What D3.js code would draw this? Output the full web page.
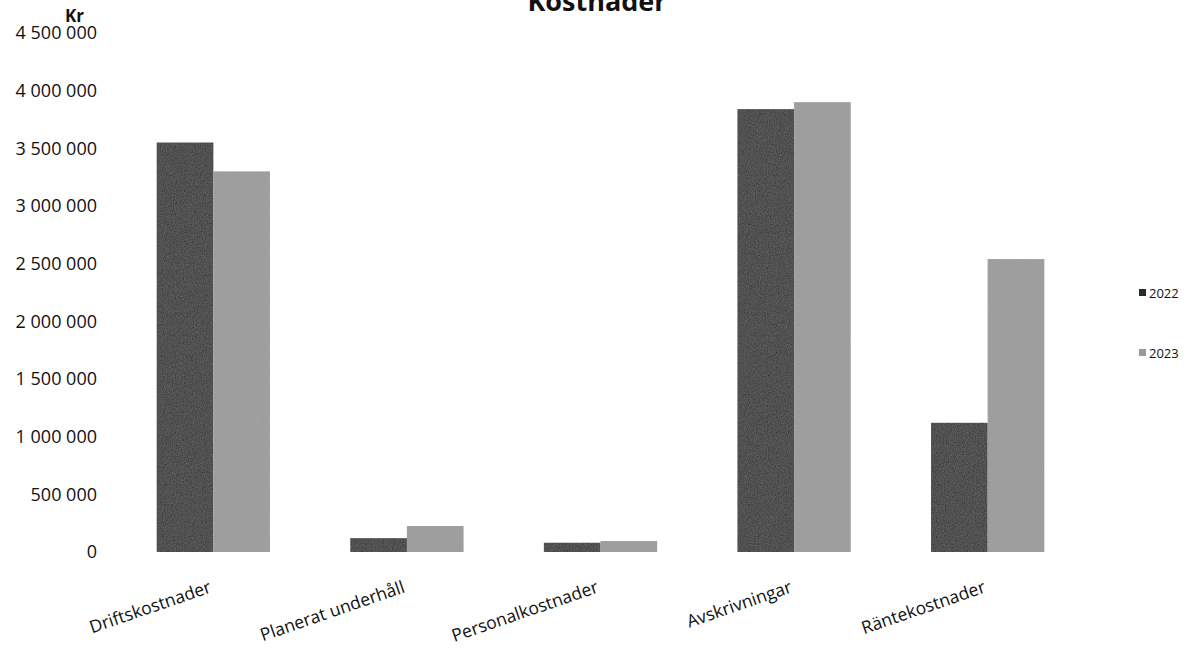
<!DOCTYPE html>
<html>
<head>
<meta charset="utf-8">
<script src="https://cdn.jsdelivr.net/npm/d3@7"></script>
<style>
  body { margin: 0; background: #fff; }
  text { font-family: "Open Sans", "Noto Sans", sans-serif; fill: #111; }
</style>
</head>
<body>
<svg id="chart"></svg>
<script>
// chart data
const categories = ["Driftskostnader", "Planerat underhåll", "Personalkostnader", "Avskrivningar", "Räntekostnader"];
const years = ["2022", "2023"];
const values2022 = [3550000, 120000, 80000, 3840000, 1120000];
const values2023 = [3300000, 225000, 95000, 3900000, 2540000];
const yTicks = [0, 500000, 1000000, 1500000, 2000000, 2500000, 3000000, 3500000, 4000000, 4500000];

function makeBarChart() {
    let w = 1189;
    let h = 650;

    let svg = d3.select('#chart')
        .attr('width', w)
        .attr('height', h);

    let xScale = d3.scaleBand()
        .domain(categories)
        .range([118, 1083])
        .paddingInner(0.415)
        .paddingOuter(0.2);

    let xSub = d3.scaleBand()
        .domain(years)
        .range([0, xScale.bandwidth()]);

    let yScale = d3.scaleLinear()
        .domain([0, 4500000])
        .range([552, 33]);

    let colors = d3.scaleOrdinal()
        .domain(years)
        .range(['#2a2a2a', '#9a9a9a']);

    let fmt = d3.formatLocale({ decimal: ",", thousands: " ", grouping: [3], currency: ["", " kr"] }).format(",d");

    // grainy look of the scanned bars
    let defs = svg.append('defs');
    let filt = defs.append('filter').attr('id', 'grain');
    filt.append('feTurbulence')
        .attr('type', 'fractalNoise')
        .attr('baseFrequency', 0.9)
        .attr('numOctaves', 2)
        .attr('result', 'noise');
    filt.append('feColorMatrix')
        .attr('in', 'noise')
        .attr('type', 'matrix')
        .attr('values', '0 0 0 0 0.5  0 0 0 0 0.5  0 0 0 0 0.5  0 0 0 0.25 0')
        .attr('result', 'n2');
    filt.append('feComposite')
        .attr('in', 'n2')
        .attr('in2', 'SourceGraphic')
        .attr('operator', 'in')
        .attr('result', 'n3');
    filt.append('feMerge').selectAll('feMergeNode')
        .data(['SourceGraphic', 'n3'])
        .enter().append('feMergeNode')
        .attr('in', d => d);

    let rows = categories.map((c, i) => ({ cat: c, vals: [values2022[i], values2023[i]] }));

    let groups = svg.append('g')
        .selectAll('g')
        .data(rows)
        .enter()
        .append('g')
        .attr('transform', d => `translate(${xScale(d.cat)},0)`);

    groups.selectAll('rect')
        .data(d => d.vals.map((v, j) => ({ year: years[j], value: v })))
        .enter()
        .append('rect')
        .attr('x', d => xSub(d.year))
        .attr('y', d => yScale(d.value))
        .attr('width', xSub.bandwidth())
        .attr('height', d => yScale(0) - yScale(d.value))
        .attr('fill', d => colors(d.year))
        .attr('filter', 'url(#grain)');

    // y axis, labels only
    let yAxis = svg.append('g')
        .attr('transform', 'translate(97,0)')
        .call(d3.axisLeft(yScale).tickValues(yTicks).tickSize(0).tickPadding(0).tickFormat(fmt));
    yAxis.select('.domain').remove();
    yAxis.selectAll('text')
        .attr('font-size', '18px')
        .style('font-family', '"Open Sans", "Noto Sans", sans-serif')
        .attr('fill', '#111');

    // x labels, rotated
    svg.append('g')
        .selectAll('text')
        .data(categories)
        .enter()
        .append('text')
        .attr('transform', d => `translate(${xScale(d) + xScale.bandwidth() / 2 - 1},592) rotate(-19)`)
        .attr('text-anchor', 'end')
        .attr('font-size', '17.5px')
        .text(d => d);

    // title (cut at top edge in the source)
    svg.append('text')
        .attr('x', 597)
        .attr('y', 11)
        .attr('text-anchor', 'middle')
        .attr('font-size', '27px')
        .attr('font-weight', 'bold')
        .text('Kostnader');

    // unit label
    svg.append('text')
        .attr('x', 65)
        .attr('y', 22)
        .attr('font-size', '17px')
        .attr('font-weight', 'bold')
        .text('Kr');

    // legend
    let legend = svg.append('g')
        .selectAll('g')
        .data(years)
        .enter()
        .append('g')
        .attr('transform', (d, i) => `translate(1139,${293 + i * 60})`);

    legend.append('rect')
        .attr('x', 0)
        .attr('y', -4)
        .attr('width', 7)
        .attr('height', 7)
        .attr('fill', d => colors(d));

    legend.append('text')
        .attr('x', 10)
        .attr('y', 5)
        .attr('font-size', '13px')
        .text(d => d);
}

makeBarChart();
</script>
</body>
</html>
